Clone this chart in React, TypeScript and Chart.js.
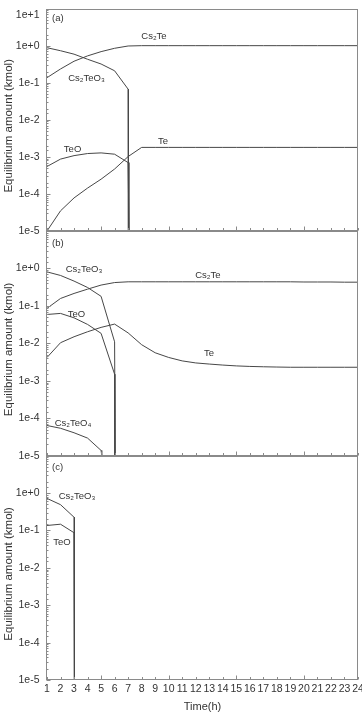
import React, { useEffect, useRef } from 'react';
import { Chart, registerables } from 'chart.js';

Chart.register(...registerables);

const FONT = '"Liberation Sans", Arial, Helvetica, sans-serif';
const LINE = '#474747';
const AXIS = '#8a8a8a';
const TEXT = '#333333';

// ---------- data ----------
const hours = [1, 2, 3, 4, 5, 6, 7, 8, 9, 10, 11, 12, 13, 14, 15, 16, 17, 18, 19, 20, 21, 22, 23, 24];
const Y_MIN = 1e-5;
const Y_MAX = 10;
const yTitle = 'Equilibrium amount (kmol)';
const xTitle = 'Time(h)';

// Panel (a)
const aCs2TeY = [0.137, 0.235, 0.38, 0.53, 0.69, 0.85, 0.98, 1.0, 1.0, 1.0, 1.0, 1.0, 1.0, 1.0, 1.0, 1.0, 1.0, 1.0, 1.0, 1.0, 1.0, 1.0, 1.0, 1.0];
const aTeY = [1e-5, 3.5e-5, 7.8e-5, 1.44e-4, 2.5e-4, 4.7e-4, 1.02e-3, 1.8e-3, 1.8e-3, 1.8e-3, 1.8e-3, 1.8e-3, 1.8e-3, 1.8e-3, 1.8e-3, 1.8e-3, 1.8e-3, 1.8e-3, 1.8e-3, 1.8e-3, 1.8e-3, 1.8e-3, 1.8e-3, 1.8e-3];
const aCs2TeO3X = [1, 2, 3, 4, 5, 6, 7, 7.02];
const aCs2TeO3Y = [0.88, 0.73, 0.59, 0.43, 0.32, 0.21, 0.067, 1e-5];
const aTeOX = [1, 2, 3, 4, 5, 6, 7, 7.06];
const aTeOY = [5.5e-4, 8.7e-4, 1.08e-3, 1.23e-3, 1.28e-3, 1.18e-3, 7.0e-4, 1e-5];

// Panel (b)
const bCs2TeY = [0.086, 0.158, 0.215, 0.28, 0.36, 0.42, 0.44, 0.44, 0.44, 0.44, 0.44, 0.44, 0.44, 0.44, 0.44, 0.44, 0.44, 0.44, 0.44, 0.435, 0.435, 0.435, 0.43, 0.43];
const bTeY = [4.2e-3, 0.0104, 0.015, 0.0204, 0.0267, 0.0327, 0.019, 9.2e-3, 5.6e-3, 4.2e-3, 3.4e-3, 3.0e-3, 2.8e-3, 2.63e-3, 2.5e-3, 2.42e-3, 2.37e-3, 2.33e-3, 2.3e-3, 2.3e-3, 2.3e-3, 2.3e-3, 2.3e-3, 2.3e-3];
const bCs2TeO3X = [1, 2, 3, 4, 5, 6, 6.04];
const bCs2TeO3Y = [0.81, 0.65, 0.46, 0.31, 0.18, 0.011, 1e-5];
const bTeOX = [1, 2, 3, 4, 5, 6, 6.02];
const bTeOY = [0.059, 0.063, 0.048, 0.032, 0.0185, 1.5e-3, 1e-5];
const bCs2TeO4X = [1, 2, 3, 4, 5, 5.05];
const bCs2TeO4Y = [6.4e-5, 5.4e-5, 4.1e-5, 2.95e-5, 1.38e-5, 1e-5];

// Panel (c)
const cCs2TeO3X = [1, 2, 3, 3.03];
const cCs2TeO3Y = [0.72, 0.49, 0.226, 1e-5];
const cTeOX = [1, 2, 3, 3.03];
const cTeOY = [0.136, 0.147, 0.087, 1e-5];

type Series = { name: string; xs: number[]; ys: number[] };
type Label = { text: string; x: number; y: number };
type Panel = {
  tag: string;
  areaTop: number;
  areaBottom: number;
  tagDy: number;
  showTopLabel: boolean;
  showX: boolean;
  series: Series[];
  labels: Label[];
};

const PANELS: Panel[] = [
  {
    tag: '(a)',
    areaTop: 8.6,
    areaBottom: 231,
    tagDy: 9.5,
    showTopLabel: true,
    showX: false,
    series: [
      { name: 'Cs₂Te', xs: hours, ys: aCs2TeY },
      { name: 'Cs₂TeO₃', xs: aCs2TeO3X, ys: aCs2TeO3Y },
      { name: 'TeO', xs: aTeOX, ys: aTeOY },
      { name: 'Te', xs: hours, ys: aTeY },
    ],
    labels: [
      { text: 'Cs₂Te', x: 8.91, y: 1.75 },
      { text: 'Cs₂TeO₃', x: 3.92, y: 0.135 },
      { text: 'TeO', x: 2.89, y: 1.64e-3 },
      { text: 'Te', x: 9.58, y: 2.7e-3 },
    ],
  },
  {
    tag: '(b)',
    areaTop: 231,
    areaBottom: 455.7,
    tagDy: 12,
    showTopLabel: false,
    showX: false,
    series: [
      { name: 'Cs₂Te', xs: hours, ys: bCs2TeY },
      { name: 'Cs₂TeO₃', xs: bCs2TeO3X, ys: bCs2TeO3Y },
      { name: 'TeO', xs: bTeOX, ys: bTeOY },
      { name: 'Te', xs: hours, ys: bTeY },
      { name: 'Cs₂TeO₄', xs: bCs2TeO4X, ys: bCs2TeO4Y },
    ],
    labels: [
      { text: 'Cs₂TeO₃', x: 3.74, y: 0.96 },
      { text: 'TeO', x: 3.18, y: 0.06 },
      { text: 'Cs₂Te', x: 12.9, y: 0.66 },
      { text: 'Te', x: 12.98, y: 5.5e-3 },
      { text: 'Cs₂TeO₄', x: 2.92, y: 7.5e-5 },
    ],
  },
  {
    tag: '(c)',
    areaTop: 455.7,
    areaBottom: 680,
    tagDy: 11.3,
    showTopLabel: false,
    showX: true,
    series: [
      { name: 'Cs₂TeO₃', xs: cCs2TeO3X, ys: cCs2TeO3Y },
      { name: 'TeO', xs: cTeOX, ys: cTeOY },
    ],
    labels: [
      { text: 'Cs₂TeO₃', x: 3.22, y: 0.8 },
      { text: 'TeO', x: 2.11, y: 0.048 },
    ],
  },
];

const W = 362;
const H = 714;

const decoPlugin = {
  id: 'deco',
  afterDraw(chart: any, _args: any, opts: any) {
    const { ctx, chartArea: ca, scales } = chart;
    const xs = scales.x;
    const ys = scales.y;
    ctx.save();
    ctx.strokeStyle = AXIS;
    ctx.lineWidth = 1;
    const L = Math.round(ca.left) - 0.5;
    const R = Math.round(ca.right) - 0.5;
    const T = Math.round(ca.top) + 0.5;
    const B = Math.round(ca.bottom) - 0.5;
    ctx.strokeRect(L, T, R - L, B - T);
    ctx.beginPath();
    for (const t of ys.ticks) {
      const p = ys.getPixelForValue(t.value);
      if (p < ca.top - 0.5 || p > ca.bottom + 0.5) continue;
      const lg = Math.log10(t.value);
      const major = Math.abs(lg - Math.round(lg)) < 1e-6;
      const len = major ? 4 : 2;
      const py = Math.round(p) + 0.5;
      ctx.moveTo(L, py);
      ctx.lineTo(L + len, py);
    }
    for (const h of hours) {
      const p = xs.getPixelForValue(h);
      const len = h % 5 === 0 ? 4 : 2.5;
      const px = Math.round(p) + 0.5;
      ctx.moveTo(px, B);
      ctx.lineTo(px, B - len);
    }
    ctx.stroke();

    ctx.fillStyle = TEXT;
    ctx.font = `9.5px ${FONT}`;
    ctx.textAlign = 'center';
    ctx.textBaseline = 'middle';
    for (const l of opts.labels as Label[]) {
      ctx.fillText(l.text, xs.getPixelForValue(l.x), ys.getPixelForValue(l.y));
    }
    ctx.textAlign = 'left';
    ctx.fillText(opts.tag, ca.left + 5, ca.top + opts.tagDy);

    // y-axis title, drawn a little below the panel centre as in the source figure
    ctx.save();
    ctx.font = `11.5px ${FONT}`;
    ctx.textAlign = 'center';
    ctx.textBaseline = 'middle';
    ctx.translate(9, (ca.top + ca.bottom) / 2 + 6);
    ctx.rotate(-Math.PI / 2);
    ctx.fillText(yTitle, 0, 0);
    ctx.restore();

    ctx.restore();
  },
};

function fmtExp(v: number): string {
  const e = Math.round(Math.log10(v));
  return `1e${e >= 0 ? '+' : '-'}${Math.abs(e)}`;
}

function buildConfig(p: Panel): any {
  return {
    type: 'line',
    data: {
      datasets: p.series.map((s) => ({
        label: s.name,
        data: s.xs.map((x, i) => ({ x, y: s.ys[i] })),
        borderColor: LINE,
        backgroundColor: LINE,
        borderWidth: 1,
        pointRadius: 0,
        tension: 0,
        fill: false,
      })),
    },
    options: {
      animation: false,
      responsive: false,
      maintainAspectRatio: false,
      devicePixelRatio: 1,
      events: [],
      layout: {
        padding: { top: p.areaTop, bottom: 0, left: 0, right: 4 },
      },
      plugins: {
        legend: { display: false },
        tooltip: { enabled: false },
        deco: { labels: p.labels, tag: p.tag, tagDy: p.tagDy },
      },
      scales: {
        x: {
          type: 'linear',
          min: 1,
          max: 24,
          display: true,
          grid: { display: false, drawTicks: false },
          border: { display: false },
          ticks: {
            display: p.showX,
            stepSize: 1,
            autoSkip: false,
            maxRotation: 0,
            padding: 3,
            color: TEXT,
            font: { size: 10.5, family: FONT },
          },
          title: {
            display: p.showX,
            text: xTitle,
            color: TEXT,
            font: { size: 11, family: FONT },
            padding: { top: 0, bottom: 0 },
          },
          afterFit: (s: any) => {
            s.height = H - p.areaBottom;
            s.paddingLeft = 0;
            s.paddingRight = 0;
          },
        },
        y: {
          type: 'logarithmic',
          min: Y_MIN,
          max: Y_MAX,
          grid: { display: false, drawTicks: false },
          border: { display: false },
          ticks: {
            autoSkip: false,
            padding: 7.5,
            color: TEXT,
            font: { size: 10.5, family: FONT },
            callback: (value: any) => {
              const v = Number(value);
              const lg = Math.log10(v);
              if (Math.abs(lg - Math.round(lg)) > 1e-6) return '';
              const e = Math.round(lg);
              if (e === 1) return p.showTopLabel ? ['', fmtExp(v)] : '';
              return fmtExp(v);
            },
          },
          title: { display: false },
          afterFit: (s: any) => {
            s.width = 47;
            s.paddingTop = 0;
            s.paddingBottom = 0;
          },
        },
      },
    },
    plugins: [decoPlugin],
  };
}

export default function App() {
  const refs = useRef<(HTMLCanvasElement | null)[]>([]);

  useEffect(() => {
    Chart.defaults.font.family = FONT;
    const charts = PANELS.map((p, i) => new Chart(refs.current[i] as HTMLCanvasElement, buildConfig(p)));
    return () => charts.forEach((c) => c.destroy());
  }, []);

  return (
    <div style={{ position: 'fixed', left: 0, top: 0, width: W, height: H, background: '#ffffff' }}>
      {PANELS.map((p, i) => (
        <canvas
          key={p.tag}
          ref={(el) => {
            refs.current[i] = el;
          }}
          width={W}
          height={H}
          style={{ position: 'absolute', left: 0, top: 0, width: W, height: H }}
        />
      ))}
    </div>
  );
}
